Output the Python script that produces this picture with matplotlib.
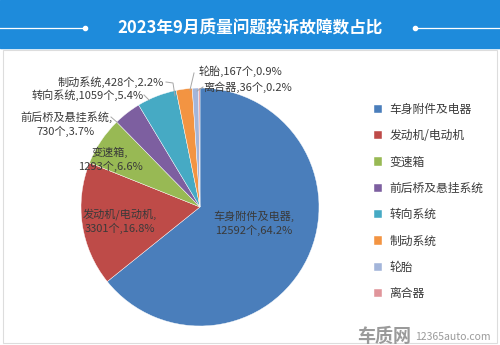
import matplotlib
matplotlib.use("Agg")
import matplotlib.pyplot as plt
from matplotlib.patches import Rectangle

plt.rcParams['font.family'] = ['Noto Sans CJK SC', 'DejaVu Sans']

title = "2023年9月质量问题投诉故障数占比"
names = ["车身附件及电器", "发动机/电动机", "变速箱", "前后桥及悬挂系统",
         "转向系统", "制动系统", "轮胎", "离合器"]
counts = [12592, 3301, 1293, 730, 1059, 428, 167, 36]
colors = ["#4A7EBB", "#BE4B48", "#98B954", "#7D5FA0",
          "#46AAC4", "#F39442", "#A3B5DA", "#E0959B"]

W, H = 500, 345


def P(y):
    # pixel y (top-down) -> axis y (bottom-up)
    return H - y


fig = plt.figure(figsize=(5, 3.45), dpi=100)
ax = fig.add_axes([0, 0, 1, 1])

# background panels
ax.add_patch(Rectangle((0, P(48)), W, 48, color="#1E8BDB", zorder=0))
ax.add_patch(Rectangle((3, P(343)), W - 6, 293, facecolor="white",
                       edgecolor="#DDDDDD", lw=0.8, zorder=0))
ax.plot([0, 85], [P(28), P(28)], color="white", lw=0.9)
ax.plot([415, 500], [P(28), P(28)], color="white", lw=0.9)
ax.plot([85, 415], [P(28), P(28)], "o", color="white", ms=3)
ax.text(W / 2, P(27), title, color="white", fontsize=12, fontweight="bold",
        ha="center", va="center")

# pie
total = sum(counts)
wedges, _ = ax.pie(counts, colors=colors, startangle=90, counterclock=False,
                   center=(200, P(207)), radius=119,
                   wedgeprops=dict(edgecolor="white", linewidth=0.3))

# data labels
label_pos = [(254, 223), (120, 221), (110, 159), (66, 124),
             (88, 95), (111, 82), (240, 71), (248, 87)]
two_lines = [True, True, True, True, False, False, False, False]
for name, c, (x, y), br in zip(names, counts, label_pos, two_lines):
    sep = ",\n" if br else ","
    txt = f"{name}{sep}{c}个,{c / total * 100:.1f}%"
    ax.text(x, P(y), txt, fontsize=8, color="#3A3A3A", ha="center",
            va="center", linespacing=1.3)

# leader lines
leaders = [
    [(111, 117), (118, 123)],
    [(144, 95), (149, 100)],
    [(166, 82), (173, 83), (175, 96)],
    [(194, 73), (190, 90)],
    [(203, 87), (197, 91)],
]
for seg in leaders:
    ax.plot([p[0] for p in seg], [P(p[1]) for p in seg], color="#A6A6A6", lw=0.7)

leg = ax.legend(wedges, names, loc="upper left",
                bbox_to_anchor=(368 / W, 1 - 97 / H), frameon=False,
                fontsize=8.5, handlelength=0.7, handleheight=0.7,
                handletextpad=0.6, labelspacing=1.13, borderpad=0)
for t in leg.get_texts():
    t.set_color("#3A3A3A")

# watermark
ax.text(384, P(336), "车质网", fontsize=13, fontweight="bold", color="#9A9A9A",
        ha="center", va="center", style="italic")
ax.text(453, P(337), "12365auto.com", fontsize=7.5, color="#9A9A9A",
        ha="center", va="center")

ax.set_xlim(0, W)
ax.set_ylim(0, H)
ax.set_aspect("auto")
ax.axis("off")

fig.savefig("out.png", dpi=100)
